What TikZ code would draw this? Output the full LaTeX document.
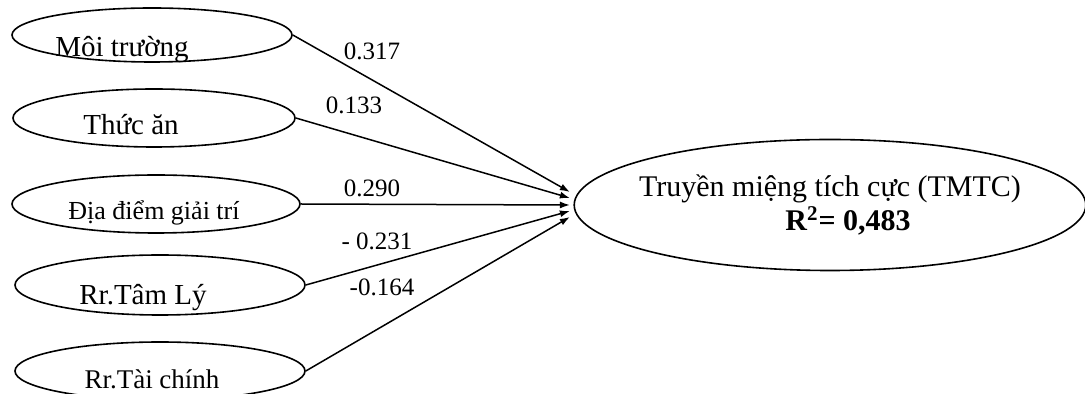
\documentclass[tikz,border=0pt]{standalone}
\usepackage{fontspec}
\setmainfont{Liberation Serif}
\usetikzlibrary{shapes.geometric,arrows.meta}

\begin{document}
\begin{tikzpicture}[x=0.5pt, y=-0.5pt,
    var/.style={
      ellipse,
      draw,
      line width=0.8pt,
      inner sep=0pt
    },
    coef/.style={
      font=\fontsize{12.5}{14}\selectfont,
      inner sep=0pt
    },
    % label center sits on the baseline
    every label/.style={
      font=\fontsize{14.5}{16}\selectfont,
      inner sep=0pt,
      text height=0pt,
      text depth=0pt
    },
    path/.style={->, line width=0.75pt},
    >={Latex[length=5pt,width=3.5pt]}
  ]
  \useasboundingbox (0,0) rectangle (1085,394);
  % the five factors
  \node[var,minimum width=140pt,minimum height=27pt,
    label={[xshift=-15pt,yshift=-11pt]center:Môi trường}] (moitruong) at (152,35) {};
  \node[var,minimum width=141pt,minimum height=29pt,
    label={[xshift=-11.5pt,yshift=-8.5pt]center:Thức ăn}] (thucan) at (154,118) {};
  \node[var,minimum width=144pt,minimum height=29pt,
    label={[xshift=-1pt,yshift=-8pt,font=\fontsize{13}{15}\selectfont]center:Địa điểm giải trí}] (diadiem) at (156,204) {};
  \node[var,minimum width=145pt,minimum height=30pt,
    label={[xshift=-8.5pt,yshift=-10pt]center:Rr.Tâm Lý}] (tamly) at (160,285) {};
  \node[var,minimum width=145pt,minimum height=29pt,
    label={[xshift=-4pt,yshift=-9pt,font=\fontsize{13.5}{15}\selectfont]center:Rr.Tài chính}] (taichinh) at (160,371) {};
  % outcome
  \node[var,minimum width=253.5pt,minimum height=65.5pt,inner xsep=-5pt,
    align=center,font=\fontsize{15}{17}\selectfont] (tmtc) at (830,205)
    {Truyền miệng tích cực (TMTC)\\\hspace*{18pt}\textbf{R\textsuperscript{2}= 0,483}};
  % paths
  \draw[path] (moitruong.east) -- ([xshift=-1.75pt,yshift=6.5pt]tmtc.west);
  \draw[path] (thucan.east) -- ([xshift=-1.75pt,yshift=3.5pt]tmtc.west);
  \draw[path] (diadiem.east) -- ([xshift=-1.75pt,yshift=0pt]tmtc.west);
  \draw[path] (tamly.east) -- ([xshift=-1.75pt,yshift=-3pt]tmtc.west);
  \draw[path] (taichinh.east) -- ([xshift=-1.75pt,yshift=-6pt]tmtc.west);
  \node[coef] (b1) at (372,51) {0.317};
  \node[coef] (b2) at (354,105) {0.133};
  \node[coef] (b3) at (372,188) {0.290};
  \node[coef] (b4) at (377,241) {- 0.231};
  \node[coef] (b5) at (382,287) {-0.164};
\end{tikzpicture}
\end{document}
